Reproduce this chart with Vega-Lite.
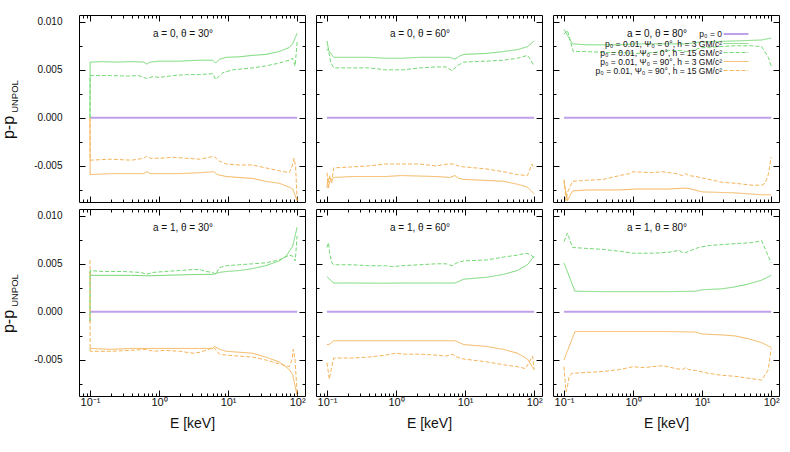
{
  "$schema": "https://vega.github.io/schema/vega-lite/v6.json",
  "background": "white",
  "padding": {"left": 0, "top": 14, "right": 5, "bottom": 5},
  "config": {
    "font": "Liberation Sans",
    "view": {"stroke": null},
    "axis": {
      "grid": false,
      "domainColor": "#000",
      "domainWidth": 1,
      "tickColor": "#000",
      "labelColor": "#111",
      "titleColor": "#111",
      "labelFont": "Liberation Sans",
      "titleFont": "Liberation Sans",
      "titleFontWeight": "normal",
      "labelFontSize": 10,
      "labelFlush": false,
      "labelOverlap": false
    },
    "title": {"font": "Liberation Sans", "fontSize": 10, "fontWeight": "normal", "color": "#111", "frame": "group"},
    "legend": {"labelFont": "Liberation Sans"}
  },
  "datasets": {
    "curves": [
      {"panel": "a0t30", "series": "p0", "E": 0.1, "v": 0},
      {"panel": "a0t30", "series": "p0", "E": 100, "v": 0},
      {"panel": "a0t30", "series": "g3", "E": 0.1, "v": 0},
      {"panel": "a0t30", "series": "g3", "E": 0.1005, "v": 0.0058},
      {"panel": "a0t30", "series": "g3", "E": 0.15, "v": 0.00585},
      {"panel": "a0t30", "series": "g3", "E": 0.25, "v": 0.0058},
      {"panel": "a0t30", "series": "g3", "E": 0.4, "v": 0.00585},
      {"panel": "a0t30", "series": "g3", "E": 0.6, "v": 0.0058},
      {"panel": "a0t30", "series": "g3", "E": 0.66, "v": 0.0056},
      {"panel": "a0t30", "series": "g3", "E": 0.75, "v": 0.0058},
      {"panel": "a0t30", "series": "g3", "E": 1, "v": 0.0059},
      {"panel": "a0t30", "series": "g3", "E": 2, "v": 0.0059},
      {"panel": "a0t30", "series": "g3", "E": 3.9, "v": 0.006},
      {"panel": "a0t30", "series": "g3", "E": 6, "v": 0.006},
      {"panel": "a0t30", "series": "g3", "E": 6.6, "v": 0.0057},
      {"panel": "a0t30", "series": "g3", "E": 7.5, "v": 0.0061},
      {"panel": "a0t30", "series": "g3", "E": 9.4, "v": 0.0063},
      {"panel": "a0t30", "series": "g3", "E": 14.5, "v": 0.00635},
      {"panel": "a0t30", "series": "g3", "E": 22.6, "v": 0.0065},
      {"panel": "a0t30", "series": "g3", "E": 35, "v": 0.0066},
      {"panel": "a0t30", "series": "g3", "E": 55, "v": 0.0069},
      {"panel": "a0t30", "series": "g3", "E": 76, "v": 0.0073},
      {"panel": "a0t30", "series": "g3", "E": 86, "v": 0.0077},
      {"panel": "a0t30", "series": "g3", "E": 100, "v": 0.0088},
      {"panel": "a0t30", "series": "g15", "E": 0.1, "v": 0},
      {"panel": "a0t30", "series": "g15", "E": 0.1005, "v": 0.0044},
      {"panel": "a0t30", "series": "g15", "E": 0.2, "v": 0.0044},
      {"panel": "a0t30", "series": "g15", "E": 0.35, "v": 0.00435},
      {"panel": "a0t30", "series": "g15", "E": 0.5, "v": 0.0044},
      {"panel": "a0t30", "series": "g15", "E": 0.66, "v": 0.0041},
      {"panel": "a0t30", "series": "g15", "E": 0.82, "v": 0.0043},
      {"panel": "a0t30", "series": "g15", "E": 1, "v": 0.0042},
      {"panel": "a0t30", "series": "g15", "E": 1.6, "v": 0.0044},
      {"panel": "a0t30", "series": "g15", "E": 2.5, "v": 0.0045},
      {"panel": "a0t30", "series": "g15", "E": 3.9, "v": 0.0045},
      {"panel": "a0t30", "series": "g15", "E": 6, "v": 0.0046},
      {"panel": "a0t30", "series": "g15", "E": 6.6, "v": 0.004},
      {"panel": "a0t30", "series": "g15", "E": 8.4, "v": 0.0047},
      {"panel": "a0t30", "series": "g15", "E": 11.7, "v": 0.005},
      {"panel": "a0t30", "series": "g15", "E": 22.6, "v": 0.0052},
      {"panel": "a0t30", "series": "g15", "E": 35, "v": 0.0054},
      {"panel": "a0t30", "series": "g15", "E": 55, "v": 0.0057},
      {"panel": "a0t30", "series": "g15", "E": 77, "v": 0.006},
      {"panel": "a0t30", "series": "g15", "E": 86, "v": 0.0062},
      {"panel": "a0t30", "series": "g15", "E": 93.6, "v": 0.0054},
      {"panel": "a0t30", "series": "g15", "E": 100, "v": 0.0079},
      {"panel": "a0t30", "series": "o3", "E": 0.1, "v": 0},
      {"panel": "a0t30", "series": "o3", "E": 0.1005, "v": -0.0059},
      {"panel": "a0t30", "series": "o3", "E": 0.2, "v": -0.0058},
      {"panel": "a0t30", "series": "o3", "E": 0.4, "v": -0.0058},
      {"panel": "a0t30", "series": "o3", "E": 0.6, "v": -0.0058},
      {"panel": "a0t30", "series": "o3", "E": 0.66, "v": -0.0056},
      {"panel": "a0t30", "series": "o3", "E": 0.75, "v": -0.0058},
      {"panel": "a0t30", "series": "o3", "E": 1, "v": -0.0058},
      {"panel": "a0t30", "series": "o3", "E": 2, "v": -0.0058},
      {"panel": "a0t30", "series": "o3", "E": 3.9, "v": -0.0057},
      {"panel": "a0t30", "series": "o3", "E": 6.2, "v": -0.0056},
      {"panel": "a0t30", "series": "o3", "E": 7, "v": -0.0059},
      {"panel": "a0t30", "series": "o3", "E": 9.4, "v": -0.0061},
      {"panel": "a0t30", "series": "o3", "E": 14.5, "v": -0.0062},
      {"panel": "a0t30", "series": "o3", "E": 22.6, "v": -0.0063},
      {"panel": "a0t30", "series": "o3", "E": 35, "v": -0.0066},
      {"panel": "a0t30", "series": "o3", "E": 55, "v": -0.0068},
      {"panel": "a0t30", "series": "o3", "E": 77, "v": -0.0072},
      {"panel": "a0t30", "series": "o3", "E": 86, "v": -0.0074},
      {"panel": "a0t30", "series": "o3", "E": 100, "v": -0.0086},
      {"panel": "a0t30", "series": "o15", "E": 0.1, "v": 0},
      {"panel": "a0t30", "series": "o15", "E": 0.1005, "v": -0.0044},
      {"panel": "a0t30", "series": "o15", "E": 0.2, "v": -0.0043},
      {"panel": "a0t30", "series": "o15", "E": 0.4, "v": -0.0044},
      {"panel": "a0t30", "series": "o15", "E": 0.6, "v": -0.0042},
      {"panel": "a0t30", "series": "o15", "E": 0.66, "v": -0.004},
      {"panel": "a0t30", "series": "o15", "E": 0.75, "v": -0.0042},
      {"panel": "a0t30", "series": "o15", "E": 1, "v": -0.0042},
      {"panel": "a0t30", "series": "o15", "E": 1.6, "v": -0.0041},
      {"panel": "a0t30", "series": "o15", "E": 2.5, "v": -0.0042},
      {"panel": "a0t30", "series": "o15", "E": 3.9, "v": -0.0043},
      {"panel": "a0t30", "series": "o15", "E": 6.2, "v": -0.004},
      {"panel": "a0t30", "series": "o15", "E": 7.5, "v": -0.0045},
      {"panel": "a0t30", "series": "o15", "E": 9.4, "v": -0.0048},
      {"panel": "a0t30", "series": "o15", "E": 14.5, "v": -0.0049},
      {"panel": "a0t30", "series": "o15", "E": 22.6, "v": -0.0049},
      {"panel": "a0t30", "series": "o15", "E": 35, "v": -0.0052},
      {"panel": "a0t30", "series": "o15", "E": 55, "v": -0.0055},
      {"panel": "a0t30", "series": "o15", "E": 77, "v": -0.0057},
      {"panel": "a0t30", "series": "o15", "E": 85, "v": -0.005},
      {"panel": "a0t30", "series": "o15", "E": 90, "v": -0.0042},
      {"panel": "a0t30", "series": "o15", "E": 95, "v": -0.005},
      {"panel": "a0t30", "series": "o15", "E": 100, "v": -0.0086},

      {"panel": "a0t60", "series": "p0", "E": 0.1, "v": 0},
      {"panel": "a0t60", "series": "p0", "E": 100, "v": 0},
      {"panel": "a0t60", "series": "g3", "E": 0.1, "v": 0.008},
      {"panel": "a0t60", "series": "g3", "E": 0.106, "v": 0.007},
      {"panel": "a0t60", "series": "g3", "E": 0.125, "v": 0.0063},
      {"panel": "a0t60", "series": "g3", "E": 0.23, "v": 0.0063},
      {"panel": "a0t60", "series": "g3", "E": 0.4, "v": 0.0063},
      {"panel": "a0t60", "series": "g3", "E": 0.7, "v": 0.0062},
      {"panel": "a0t60", "series": "g3", "E": 1.2, "v": 0.0062},
      {"panel": "a0t60", "series": "g3", "E": 2.2, "v": 0.0063},
      {"panel": "a0t60", "series": "g3", "E": 3.8, "v": 0.0063},
      {"panel": "a0t60", "series": "g3", "E": 6, "v": 0.0063},
      {"panel": "a0t60", "series": "g3", "E": 7.1, "v": 0.0061},
      {"panel": "a0t60", "series": "g3", "E": 8.2, "v": 0.0064},
      {"panel": "a0t60", "series": "g3", "E": 9.5, "v": 0.0066},
      {"panel": "a0t60", "series": "g3", "E": 20, "v": 0.0067},
      {"panel": "a0t60", "series": "g3", "E": 36, "v": 0.0069},
      {"panel": "a0t60", "series": "g3", "E": 57, "v": 0.0071},
      {"panel": "a0t60", "series": "g3", "E": 80, "v": 0.0074},
      {"panel": "a0t60", "series": "g3", "E": 100, "v": 0.008},
      {"panel": "a0t60", "series": "g15", "E": 0.1, "v": 0.007},
      {"panel": "a0t60", "series": "g15", "E": 0.104, "v": 0.0072},
      {"panel": "a0t60", "series": "g15", "E": 0.113, "v": 0.0058},
      {"panel": "a0t60", "series": "g15", "E": 0.125, "v": 0.0052},
      {"panel": "a0t60", "series": "g15", "E": 0.23, "v": 0.0052},
      {"panel": "a0t60", "series": "g15", "E": 0.4, "v": 0.0052},
      {"panel": "a0t60", "series": "g15", "E": 0.7, "v": 0.005},
      {"panel": "a0t60", "series": "g15", "E": 1, "v": 0.005},
      {"panel": "a0t60", "series": "g15", "E": 1.3, "v": 0.005},
      {"panel": "a0t60", "series": "g15", "E": 2.2, "v": 0.0052},
      {"panel": "a0t60", "series": "g15", "E": 3.8, "v": 0.0053},
      {"panel": "a0t60", "series": "g15", "E": 5.3, "v": 0.0053},
      {"panel": "a0t60", "series": "g15", "E": 6.5, "v": 0.0049},
      {"panel": "a0t60", "series": "g15", "E": 7.6, "v": 0.0054},
      {"panel": "a0t60", "series": "g15", "E": 9.5, "v": 0.0058},
      {"panel": "a0t60", "series": "g15", "E": 20, "v": 0.0059},
      {"panel": "a0t60", "series": "g15", "E": 36, "v": 0.006},
      {"panel": "a0t60", "series": "g15", "E": 57, "v": 0.0062},
      {"panel": "a0t60", "series": "g15", "E": 80, "v": 0.0065},
      {"panel": "a0t60", "series": "g15", "E": 88, "v": 0.0061},
      {"panel": "a0t60", "series": "g15", "E": 100, "v": 0.0054},
      {"panel": "a0t60", "series": "o3", "E": 0.1, "v": -0.0073},
      {"panel": "a0t60", "series": "o3", "E": 0.103, "v": -0.0063},
      {"panel": "a0t60", "series": "o3", "E": 0.107, "v": -0.0067},
      {"panel": "a0t60", "series": "o3", "E": 0.115, "v": -0.0065},
      {"panel": "a0t60", "series": "o3", "E": 0.125, "v": -0.0062},
      {"panel": "a0t60", "series": "o3", "E": 0.23, "v": -0.0061},
      {"panel": "a0t60", "series": "o3", "E": 0.7, "v": -0.0061},
      {"panel": "a0t60", "series": "o3", "E": 1.2, "v": -0.006},
      {"panel": "a0t60", "series": "o3", "E": 3.8, "v": -0.0061},
      {"panel": "a0t60", "series": "o3", "E": 6, "v": -0.0062},
      {"panel": "a0t60", "series": "o3", "E": 7.1, "v": -0.006},
      {"panel": "a0t60", "series": "o3", "E": 8.2, "v": -0.0063},
      {"panel": "a0t60", "series": "o3", "E": 9.5, "v": -0.0064},
      {"panel": "a0t60", "series": "o3", "E": 20, "v": -0.0065},
      {"panel": "a0t60", "series": "o3", "E": 36, "v": -0.0066},
      {"panel": "a0t60", "series": "o3", "E": 57, "v": -0.0069},
      {"panel": "a0t60", "series": "o3", "E": 80, "v": -0.0072},
      {"panel": "a0t60", "series": "o3", "E": 100, "v": -0.0079},
      {"panel": "a0t60", "series": "o15", "E": 0.1, "v": -0.0057},
      {"panel": "a0t60", "series": "o15", "E": 0.106, "v": -0.0073},
      {"panel": "a0t60", "series": "o15", "E": 0.11, "v": -0.006},
      {"panel": "a0t60", "series": "o15", "E": 0.117, "v": -0.0068},
      {"panel": "a0t60", "series": "o15", "E": 0.125, "v": -0.0052},
      {"panel": "a0t60", "series": "o15", "E": 0.23, "v": -0.0051},
      {"panel": "a0t60", "series": "o15", "E": 0.4, "v": -0.005},
      {"panel": "a0t60", "series": "o15", "E": 0.7, "v": -0.0048},
      {"panel": "a0t60", "series": "o15", "E": 1.2, "v": -0.0048},
      {"panel": "a0t60", "series": "o15", "E": 2.2, "v": -0.0048},
      {"panel": "a0t60", "series": "o15", "E": 3.8, "v": -0.005},
      {"panel": "a0t60", "series": "o15", "E": 5.5, "v": -0.0048},
      {"panel": "a0t60", "series": "o15", "E": 6.8, "v": -0.0048},
      {"panel": "a0t60", "series": "o15", "E": 8, "v": -0.005},
      {"panel": "a0t60", "series": "o15", "E": 9.5, "v": -0.0051},
      {"panel": "a0t60", "series": "o15", "E": 20, "v": -0.0053},
      {"panel": "a0t60", "series": "o15", "E": 36, "v": -0.0056},
      {"panel": "a0t60", "series": "o15", "E": 57, "v": -0.0059},
      {"panel": "a0t60", "series": "o15", "E": 80, "v": -0.006},
      {"panel": "a0t60", "series": "o15", "E": 93, "v": -0.0048},
      {"panel": "a0t60", "series": "o15", "E": 100, "v": -0.0053},

      {"panel": "a0t80", "series": "p0", "E": 0.1, "v": 0},
      {"panel": "a0t80", "series": "p0", "E": 100, "v": 0},
      {"panel": "a0t80", "series": "g3", "E": 0.1, "v": 0.0092},
      {"panel": "a0t80", "series": "g3", "E": 0.133, "v": 0.0077},
      {"panel": "a0t80", "series": "g3", "E": 0.21, "v": 0.0076},
      {"panel": "a0t80", "series": "g3", "E": 0.64, "v": 0.0076},
      {"panel": "a0t80", "series": "g3", "E": 1.1, "v": 0.0077},
      {"panel": "a0t80", "series": "g3", "E": 3.3, "v": 0.0077},
      {"panel": "a0t80", "series": "g3", "E": 5.8, "v": 0.0077},
      {"panel": "a0t80", "series": "g3", "E": 10, "v": 0.0079},
      {"panel": "a0t80", "series": "g3", "E": 30, "v": 0.008},
      {"panel": "a0t80", "series": "g3", "E": 73, "v": 0.0081},
      {"panel": "a0t80", "series": "g3", "E": 100, "v": 0.0083},
      {"panel": "a0t80", "series": "g15", "E": 0.1, "v": 0.0087},
      {"panel": "a0t80", "series": "g15", "E": 0.112, "v": 0.0091},
      {"panel": "a0t80", "series": "g15", "E": 0.136, "v": 0.0069},
      {"panel": "a0t80", "series": "g15", "E": 0.2, "v": 0.0069},
      {"panel": "a0t80", "series": "g15", "E": 0.4, "v": 0.0068},
      {"panel": "a0t80", "series": "g15", "E": 0.64, "v": 0.0068},
      {"panel": "a0t80", "series": "g15", "E": 1.1, "v": 0.0067},
      {"panel": "a0t80", "series": "g15", "E": 2, "v": 0.0068},
      {"panel": "a0t80", "series": "g15", "E": 3.3, "v": 0.007},
      {"panel": "a0t80", "series": "g15", "E": 5.2, "v": 0.007},
      {"panel": "a0t80", "series": "g15", "E": 5.8, "v": 0.0069},
      {"panel": "a0t80", "series": "g15", "E": 7, "v": 0.007},
      {"panel": "a0t80", "series": "g15", "E": 10, "v": 0.0073},
      {"panel": "a0t80", "series": "g15", "E": 17, "v": 0.0074},
      {"panel": "a0t80", "series": "g15", "E": 30, "v": 0.0075},
      {"panel": "a0t80", "series": "g15", "E": 53, "v": 0.0075},
      {"panel": "a0t80", "series": "g15", "E": 73, "v": 0.0074},
      {"panel": "a0t80", "series": "g15", "E": 91, "v": 0.0063},
      {"panel": "a0t80", "series": "g15", "E": 100, "v": 0.0054},
      {"panel": "a0t80", "series": "o3", "E": 0.1, "v": -0.0066},
      {"panel": "a0t80", "series": "o3", "E": 0.112, "v": -0.0086},
      {"panel": "a0t80", "series": "o3", "E": 0.133, "v": -0.0076},
      {"panel": "a0t80", "series": "o3", "E": 0.21, "v": -0.0075},
      {"panel": "a0t80", "series": "o3", "E": 0.64, "v": -0.0075},
      {"panel": "a0t80", "series": "o3", "E": 1.1, "v": -0.0074},
      {"panel": "a0t80", "series": "o3", "E": 3.3, "v": -0.0074},
      {"panel": "a0t80", "series": "o3", "E": 5.8, "v": -0.0073},
      {"panel": "a0t80", "series": "o3", "E": 7, "v": -0.0074},
      {"panel": "a0t80", "series": "o3", "E": 10, "v": -0.0077},
      {"panel": "a0t80", "series": "o3", "E": 30, "v": -0.0078},
      {"panel": "a0t80", "series": "o3", "E": 73, "v": -0.008},
      {"panel": "a0t80", "series": "o3", "E": 100, "v": -0.008},
      {"panel": "a0t80", "series": "o15", "E": 0.1, "v": -0.0064},
      {"panel": "a0t80", "series": "o15", "E": 0.107, "v": -0.0086},
      {"panel": "a0t80", "series": "o15", "E": 0.113, "v": -0.0077},
      {"panel": "a0t80", "series": "o15", "E": 0.133, "v": -0.0066},
      {"panel": "a0t80", "series": "o15", "E": 0.21, "v": -0.0065},
      {"panel": "a0t80", "series": "o15", "E": 0.37, "v": -0.0064},
      {"panel": "a0t80", "series": "o15", "E": 0.64, "v": -0.006},
      {"panel": "a0t80", "series": "o15", "E": 0.89, "v": -0.0058},
      {"panel": "a0t80", "series": "o15", "E": 1, "v": -0.0056},
      {"panel": "a0t80", "series": "o15", "E": 1.9, "v": -0.0057},
      {"panel": "a0t80", "series": "o15", "E": 2.7, "v": -0.0056},
      {"panel": "a0t80", "series": "o15", "E": 4.2, "v": -0.0058},
      {"panel": "a0t80", "series": "o15", "E": 5.2, "v": -0.006},
      {"panel": "a0t80", "series": "o15", "E": 5.8, "v": -0.0058},
      {"panel": "a0t80", "series": "o15", "E": 6.4, "v": -0.006},
      {"panel": "a0t80", "series": "o15", "E": 8.1, "v": -0.0061},
      {"panel": "a0t80", "series": "o15", "E": 12.6, "v": -0.0064},
      {"panel": "a0t80", "series": "o15", "E": 19.5, "v": -0.0067},
      {"panel": "a0t80", "series": "o15", "E": 30, "v": -0.0068},
      {"panel": "a0t80", "series": "o15", "E": 53, "v": -0.007},
      {"panel": "a0t80", "series": "o15", "E": 73, "v": -0.007},
      {"panel": "a0t80", "series": "o15", "E": 82, "v": -0.0068},
      {"panel": "a0t80", "series": "o15", "E": 91, "v": -0.0059},
      {"panel": "a0t80", "series": "o15", "E": 100, "v": -0.0041},

      {"panel": "a1t30", "series": "p0", "E": 0.1, "v": 0},
      {"panel": "a1t30", "series": "p0", "E": 100, "v": 0},
      {"panel": "a1t30", "series": "g3", "E": 0.1, "v": -0.001},
      {"panel": "a1t30", "series": "g3", "E": 0.1005, "v": 0.0042},
      {"panel": "a1t30", "series": "g3", "E": 0.103, "v": 0.0038},
      {"panel": "a1t30", "series": "g3", "E": 0.2, "v": 0.0038},
      {"panel": "a1t30", "series": "g3", "E": 0.4, "v": 0.0038},
      {"panel": "a1t30", "series": "g3", "E": 0.66, "v": 0.00375},
      {"panel": "a1t30", "series": "g3", "E": 1.2, "v": 0.0038},
      {"panel": "a1t30", "series": "g3", "E": 3.9, "v": 0.0039},
      {"panel": "a1t30", "series": "g3", "E": 6, "v": 0.0039},
      {"panel": "a1t30", "series": "g3", "E": 6.6, "v": 0.004},
      {"panel": "a1t30", "series": "g3", "E": 7.5, "v": 0.0041},
      {"panel": "a1t30", "series": "g3", "E": 9.4, "v": 0.0042},
      {"panel": "a1t30", "series": "g3", "E": 14.5, "v": 0.0043},
      {"panel": "a1t30", "series": "g3", "E": 22.6, "v": 0.0045},
      {"panel": "a1t30", "series": "g3", "E": 35, "v": 0.0048},
      {"panel": "a1t30", "series": "g3", "E": 55, "v": 0.0053},
      {"panel": "a1t30", "series": "g3", "E": 69, "v": 0.0058},
      {"panel": "a1t30", "series": "g3", "E": 86, "v": 0.0068},
      {"panel": "a1t30", "series": "g3", "E": 100, "v": 0.0088},
      {"panel": "a1t30", "series": "g15", "E": 0.1, "v": -0.001},
      {"panel": "a1t30", "series": "g15", "E": 0.1005, "v": 0.0043},
      {"panel": "a1t30", "series": "g15", "E": 0.15, "v": 0.0042},
      {"panel": "a1t30", "series": "g15", "E": 0.3, "v": 0.0042},
      {"panel": "a1t30", "series": "g15", "E": 0.55, "v": 0.0041},
      {"panel": "a1t30", "series": "g15", "E": 0.66, "v": 0.0039},
      {"panel": "a1t30", "series": "g15", "E": 0.8, "v": 0.0041},
      {"panel": "a1t30", "series": "g15", "E": 1.2, "v": 0.0042},
      {"panel": "a1t30", "series": "g15", "E": 2, "v": 0.0043},
      {"panel": "a1t30", "series": "g15", "E": 3.1, "v": 0.0044},
      {"panel": "a1t30", "series": "g15", "E": 3.9, "v": 0.0044},
      {"panel": "a1t30", "series": "g15", "E": 4.8, "v": 0.0042},
      {"panel": "a1t30", "series": "g15", "E": 6, "v": 0.0041},
      {"panel": "a1t30", "series": "g15", "E": 6.6, "v": 0.0039},
      {"panel": "a1t30", "series": "g15", "E": 7.5, "v": 0.0046},
      {"panel": "a1t30", "series": "g15", "E": 9.4, "v": 0.0048},
      {"panel": "a1t30", "series": "g15", "E": 14.5, "v": 0.0049},
      {"panel": "a1t30", "series": "g15", "E": 22.6, "v": 0.005},
      {"panel": "a1t30", "series": "g15", "E": 35, "v": 0.0051},
      {"panel": "a1t30", "series": "g15", "E": 55, "v": 0.0054},
      {"panel": "a1t30", "series": "g15", "E": 77, "v": 0.0059},
      {"panel": "a1t30", "series": "g15", "E": 86, "v": 0.0058},
      {"panel": "a1t30", "series": "g15", "E": 94, "v": 0.0053},
      {"panel": "a1t30", "series": "g15", "E": 100, "v": 0.0079},
      {"panel": "a1t30", "series": "o3", "E": 0.1, "v": -0.004},
      {"panel": "a1t30", "series": "o3", "E": 0.1005, "v": -0.0038},
      {"panel": "a1t30", "series": "o3", "E": 0.2, "v": -0.0039},
      {"panel": "a1t30", "series": "o3", "E": 0.4, "v": -0.0038},
      {"panel": "a1t30", "series": "o3", "E": 0.66, "v": -0.0038},
      {"panel": "a1t30", "series": "o3", "E": 1.2, "v": -0.0038},
      {"panel": "a1t30", "series": "o3", "E": 3.9, "v": -0.0038},
      {"panel": "a1t30", "series": "o3", "E": 6, "v": -0.0038},
      {"panel": "a1t30", "series": "o3", "E": 6.4, "v": -0.0036},
      {"panel": "a1t30", "series": "o3", "E": 7.5, "v": -0.0039},
      {"panel": "a1t30", "series": "o3", "E": 9.4, "v": -0.0041},
      {"panel": "a1t30", "series": "o3", "E": 14.5, "v": -0.0042},
      {"panel": "a1t30", "series": "o3", "E": 22.6, "v": -0.0043},
      {"panel": "a1t30", "series": "o3", "E": 35, "v": -0.0047},
      {"panel": "a1t30", "series": "o3", "E": 55, "v": -0.0052},
      {"panel": "a1t30", "series": "o3", "E": 77, "v": -0.006},
      {"panel": "a1t30", "series": "o3", "E": 86, "v": -0.0065},
      {"panel": "a1t30", "series": "o3", "E": 100, "v": -0.0087},
      {"panel": "a1t30", "series": "o15", "E": 0.1, "v": 0.0054},
      {"panel": "a1t30", "series": "o15", "E": 0.1005, "v": -0.0041},
      {"panel": "a1t30", "series": "o15", "E": 0.2, "v": -0.0041},
      {"panel": "a1t30", "series": "o15", "E": 0.4, "v": -0.004},
      {"panel": "a1t30", "series": "o15", "E": 0.66, "v": -0.0039},
      {"panel": "a1t30", "series": "o15", "E": 0.82, "v": -0.0041},
      {"panel": "a1t30", "series": "o15", "E": 1.2, "v": -0.004},
      {"panel": "a1t30", "series": "o15", "E": 2, "v": -0.0041},
      {"panel": "a1t30", "series": "o15", "E": 3.1, "v": -0.0043},
      {"panel": "a1t30", "series": "o15", "E": 3.9, "v": -0.0042},
      {"panel": "a1t30", "series": "o15", "E": 6.2, "v": -0.0037},
      {"panel": "a1t30", "series": "o15", "E": 7.5, "v": -0.0044},
      {"panel": "a1t30", "series": "o15", "E": 9.4, "v": -0.0045},
      {"panel": "a1t30", "series": "o15", "E": 14.5, "v": -0.0046},
      {"panel": "a1t30", "series": "o15", "E": 22.6, "v": -0.0047},
      {"panel": "a1t30", "series": "o15", "E": 35, "v": -0.005},
      {"panel": "a1t30", "series": "o15", "E": 55, "v": -0.0054},
      {"panel": "a1t30", "series": "o15", "E": 77, "v": -0.0057},
      {"panel": "a1t30", "series": "o15", "E": 84, "v": -0.005},
      {"panel": "a1t30", "series": "o15", "E": 88, "v": -0.0039},
      {"panel": "a1t30", "series": "o15", "E": 93, "v": -0.0049},
      {"panel": "a1t30", "series": "o15", "E": 100, "v": -0.0084},

      {"panel": "a1t60", "series": "p0", "E": 0.1, "v": 0},
      {"panel": "a1t60", "series": "p0", "E": 100, "v": 0},
      {"panel": "a1t60", "series": "g3", "E": 0.1, "v": 0.00365},
      {"panel": "a1t60", "series": "g3", "E": 0.106, "v": 0.0035},
      {"panel": "a1t60", "series": "g3", "E": 0.112, "v": 0.0033},
      {"panel": "a1t60", "series": "g3", "E": 0.125, "v": 0.003},
      {"panel": "a1t60", "series": "g3", "E": 0.23, "v": 0.003},
      {"panel": "a1t60", "series": "g3", "E": 0.7, "v": 0.00298},
      {"panel": "a1t60", "series": "g3", "E": 1.2, "v": 0.003},
      {"panel": "a1t60", "series": "g3", "E": 3.8, "v": 0.003},
      {"panel": "a1t60", "series": "g3", "E": 7.1, "v": 0.003},
      {"panel": "a1t60", "series": "g3", "E": 8.3, "v": 0.0032},
      {"panel": "a1t60", "series": "g3", "E": 9.5, "v": 0.0034},
      {"panel": "a1t60", "series": "g3", "E": 20.7, "v": 0.0036},
      {"panel": "a1t60", "series": "g3", "E": 36, "v": 0.0039},
      {"panel": "a1t60", "series": "g3", "E": 57, "v": 0.0043},
      {"panel": "a1t60", "series": "g3", "E": 80, "v": 0.0049},
      {"panel": "a1t60", "series": "g3", "E": 100, "v": 0.0058},
      {"panel": "a1t60", "series": "g15", "E": 0.1, "v": 0.0067},
      {"panel": "a1t60", "series": "g15", "E": 0.105, "v": 0.0072},
      {"panel": "a1t60", "series": "g15", "E": 0.11, "v": 0.006},
      {"panel": "a1t60", "series": "g15", "E": 0.118, "v": 0.0051},
      {"panel": "a1t60", "series": "g15", "E": 0.125, "v": 0.0049},
      {"panel": "a1t60", "series": "g15", "E": 0.23, "v": 0.0049},
      {"panel": "a1t60", "series": "g15", "E": 0.4, "v": 0.0048},
      {"panel": "a1t60", "series": "g15", "E": 0.7, "v": 0.0048},
      {"panel": "a1t60", "series": "g15", "E": 0.9, "v": 0.0047},
      {"panel": "a1t60", "series": "g15", "E": 1.2, "v": 0.0048},
      {"panel": "a1t60", "series": "g15", "E": 2.2, "v": 0.0049},
      {"panel": "a1t60", "series": "g15", "E": 3.8, "v": 0.005},
      {"panel": "a1t60", "series": "g15", "E": 5.3, "v": 0.005},
      {"panel": "a1t60", "series": "g15", "E": 6.5, "v": 0.0048},
      {"panel": "a1t60", "series": "g15", "E": 7.6, "v": 0.0051},
      {"panel": "a1t60", "series": "g15", "E": 9.5, "v": 0.0053},
      {"panel": "a1t60", "series": "g15", "E": 20.7, "v": 0.0054},
      {"panel": "a1t60", "series": "g15", "E": 36, "v": 0.0057},
      {"panel": "a1t60", "series": "g15", "E": 57, "v": 0.0059},
      {"panel": "a1t60", "series": "g15", "E": 75, "v": 0.0061},
      {"panel": "a1t60", "series": "g15", "E": 88, "v": 0.006},
      {"panel": "a1t60", "series": "g15", "E": 100, "v": 0.0056},
      {"panel": "a1t60", "series": "o3", "E": 0.1, "v": -0.0034},
      {"panel": "a1t60", "series": "o3", "E": 0.106, "v": -0.0034},
      {"panel": "a1t60", "series": "o3", "E": 0.112, "v": -0.0033},
      {"panel": "a1t60", "series": "o3", "E": 0.125, "v": -0.003},
      {"panel": "a1t60", "series": "o3", "E": 0.23, "v": -0.003},
      {"panel": "a1t60", "series": "o3", "E": 1.2, "v": -0.003},
      {"panel": "a1t60", "series": "o3", "E": 3.8, "v": -0.003},
      {"panel": "a1t60", "series": "o3", "E": 7.1, "v": -0.003},
      {"panel": "a1t60", "series": "o3", "E": 8.3, "v": -0.0032},
      {"panel": "a1t60", "series": "o3", "E": 9.5, "v": -0.0034},
      {"panel": "a1t60", "series": "o3", "E": 20.7, "v": -0.0036},
      {"panel": "a1t60", "series": "o3", "E": 36, "v": -0.0039},
      {"panel": "a1t60", "series": "o3", "E": 57, "v": -0.0043},
      {"panel": "a1t60", "series": "o3", "E": 80, "v": -0.0049},
      {"panel": "a1t60", "series": "o3", "E": 100, "v": -0.006},
      {"panel": "a1t60", "series": "o15", "E": 0.1, "v": -0.0053},
      {"panel": "a1t60", "series": "o15", "E": 0.108, "v": -0.007},
      {"panel": "a1t60", "series": "o15", "E": 0.115, "v": -0.006},
      {"panel": "a1t60", "series": "o15", "E": 0.125, "v": -0.0048},
      {"panel": "a1t60", "series": "o15", "E": 0.23, "v": -0.0048},
      {"panel": "a1t60", "series": "o15", "E": 0.4, "v": -0.0047},
      {"panel": "a1t60", "series": "o15", "E": 0.7, "v": -0.0045},
      {"panel": "a1t60", "series": "o15", "E": 1, "v": -0.0043},
      {"panel": "a1t60", "series": "o15", "E": 1.3, "v": -0.0044},
      {"panel": "a1t60", "series": "o15", "E": 2.2, "v": -0.0044},
      {"panel": "a1t60", "series": "o15", "E": 3.8, "v": -0.0045},
      {"panel": "a1t60", "series": "o15", "E": 5.3, "v": -0.0046},
      {"panel": "a1t60", "series": "o15", "E": 6.5, "v": -0.0044},
      {"panel": "a1t60", "series": "o15", "E": 7.6, "v": -0.0047},
      {"panel": "a1t60", "series": "o15", "E": 9.5, "v": -0.0049},
      {"panel": "a1t60", "series": "o15", "E": 20.7, "v": -0.0052},
      {"panel": "a1t60", "series": "o15", "E": 36, "v": -0.0055},
      {"panel": "a1t60", "series": "o15", "E": 57, "v": -0.0057},
      {"panel": "a1t60", "series": "o15", "E": 75, "v": -0.0059},
      {"panel": "a1t60", "series": "o15", "E": 95, "v": -0.0046},
      {"panel": "a1t60", "series": "o15", "E": 100, "v": -0.006},

      {"panel": "a1t80", "series": "p0", "E": 0.1, "v": 0},
      {"panel": "a1t80", "series": "p0", "E": 100, "v": 0},
      {"panel": "a1t80", "series": "g3", "E": 0.1, "v": 0.0051},
      {"panel": "a1t80", "series": "g3", "E": 0.144, "v": 0.00215},
      {"panel": "a1t80", "series": "g3", "E": 0.37, "v": 0.0021},
      {"panel": "a1t80", "series": "g3", "E": 1.1, "v": 0.0021},
      {"panel": "a1t80", "series": "g3", "E": 3.3, "v": 0.0021},
      {"panel": "a1t80", "series": "g3", "E": 8, "v": 0.00215},
      {"panel": "a1t80", "series": "g3", "E": 10, "v": 0.0023},
      {"panel": "a1t80", "series": "g3", "E": 19.5, "v": 0.0024},
      {"panel": "a1t80", "series": "g3", "E": 30, "v": 0.0026},
      {"panel": "a1t80", "series": "g3", "E": 47, "v": 0.0029},
      {"panel": "a1t80", "series": "g3", "E": 73, "v": 0.0033},
      {"panel": "a1t80", "series": "g3", "E": 100, "v": 0.0038},
      {"panel": "a1t80", "series": "g15", "E": 0.1, "v": 0.0073},
      {"panel": "a1t80", "series": "g15", "E": 0.112, "v": 0.0082},
      {"panel": "a1t80", "series": "g15", "E": 0.133, "v": 0.0067},
      {"panel": "a1t80", "series": "g15", "E": 0.21, "v": 0.0066},
      {"panel": "a1t80", "series": "g15", "E": 0.37, "v": 0.0065},
      {"panel": "a1t80", "series": "g15", "E": 0.64, "v": 0.0063},
      {"panel": "a1t80", "series": "g15", "E": 1, "v": 0.0061},
      {"panel": "a1t80", "series": "g15", "E": 1.9, "v": 0.0061},
      {"panel": "a1t80", "series": "g15", "E": 3.3, "v": 0.0062},
      {"panel": "a1t80", "series": "g15", "E": 4.6, "v": 0.0064},
      {"panel": "a1t80", "series": "g15", "E": 5.5, "v": 0.0061},
      {"panel": "a1t80", "series": "g15", "E": 6.4, "v": 0.0063},
      {"panel": "a1t80", "series": "g15", "E": 8.9, "v": 0.0067},
      {"panel": "a1t80", "series": "g15", "E": 12.6, "v": 0.0069},
      {"panel": "a1t80", "series": "g15", "E": 19.5, "v": 0.007},
      {"panel": "a1t80", "series": "g15", "E": 30, "v": 0.0071},
      {"panel": "a1t80", "series": "g15", "E": 53, "v": 0.0072},
      {"panel": "a1t80", "series": "g15", "E": 73, "v": 0.0074},
      {"panel": "a1t80", "series": "g15", "E": 86, "v": 0.0062},
      {"panel": "a1t80", "series": "g15", "E": 100, "v": 0.0051},
      {"panel": "a1t80", "series": "o3", "E": 0.1, "v": -0.005},
      {"panel": "a1t80", "series": "o3", "E": 0.144, "v": -0.00205},
      {"panel": "a1t80", "series": "o3", "E": 0.37, "v": -0.00205},
      {"panel": "a1t80", "series": "o3", "E": 1.1, "v": -0.00205},
      {"panel": "a1t80", "series": "o3", "E": 3.3, "v": -0.00205},
      {"panel": "a1t80", "series": "o3", "E": 8, "v": -0.0021},
      {"panel": "a1t80", "series": "o3", "E": 10, "v": -0.0023},
      {"panel": "a1t80", "series": "o3", "E": 19.5, "v": -0.0024},
      {"panel": "a1t80", "series": "o3", "E": 30, "v": -0.0025},
      {"panel": "a1t80", "series": "o3", "E": 47, "v": -0.0028},
      {"panel": "a1t80", "series": "o3", "E": 73, "v": -0.0032},
      {"panel": "a1t80", "series": "o3", "E": 100, "v": -0.0037},
      {"panel": "a1t80", "series": "o15", "E": 0.1, "v": -0.0057},
      {"panel": "a1t80", "series": "o15", "E": 0.107, "v": -0.0083},
      {"panel": "a1t80", "series": "o15", "E": 0.112, "v": -0.0078},
      {"panel": "a1t80", "series": "o15", "E": 0.118, "v": -0.0068},
      {"panel": "a1t80", "series": "o15", "E": 0.129, "v": -0.0064},
      {"panel": "a1t80", "series": "o15", "E": 0.21, "v": -0.0063},
      {"panel": "a1t80", "series": "o15", "E": 0.37, "v": -0.0062},
      {"panel": "a1t80", "series": "o15", "E": 0.64, "v": -0.006},
      {"panel": "a1t80", "series": "o15", "E": 1, "v": -0.0057},
      {"panel": "a1t80", "series": "o15", "E": 1.4, "v": -0.0058},
      {"panel": "a1t80", "series": "o15", "E": 1.9, "v": -0.0057},
      {"panel": "a1t80", "series": "o15", "E": 2.7, "v": -0.0056},
      {"panel": "a1t80", "series": "o15", "E": 4.2, "v": -0.0059},
      {"panel": "a1t80", "series": "o15", "E": 5.2, "v": -0.006},
      {"panel": "a1t80", "series": "o15", "E": 5.8, "v": -0.0058},
      {"panel": "a1t80", "series": "o15", "E": 6.4, "v": -0.006},
      {"panel": "a1t80", "series": "o15", "E": 8.1, "v": -0.0061},
      {"panel": "a1t80", "series": "o15", "E": 12.6, "v": -0.0064},
      {"panel": "a1t80", "series": "o15", "E": 19.5, "v": -0.0066},
      {"panel": "a1t80", "series": "o15", "E": 30, "v": -0.0067},
      {"panel": "a1t80", "series": "o15", "E": 73, "v": -0.0071},
      {"panel": "a1t80", "series": "o15", "E": 91, "v": -0.006},
      {"panel": "a1t80", "series": "o15", "E": 100, "v": -0.0038}
    ]
  },
  "columns": 3,
  "align": "each",
  "spacing": {"row": 5, "column": 9},
  "resolve": {"scale": {"color": "independent", "strokeDash": "independent", "strokeWidth": "independent"}},
  "concat": [
    {
      "width": 226,
      "height": 187,
      "title": {"text": "a = 0, θ = 30°", "offset": -24, "dx": -9},
      "data": {"name": "curves"},
      "transform": [{"filter": "datum.panel == 'a0t30'"}],
      "layer": [
        {
          "mark": {"type": "line", "clip": true},
          "encoding": {
            "x": {"field": "E", "type": "quantitative", "scale": {"type": "log", "domain": [0.0693, 130], "nice": false},
              "axis": {"orient": "bottom", "values": [0.08, 0.09, 0.1, 0.2, 0.3, 0.4, 0.5, 0.6, 0.7, 0.8, 0.9, 1, 2, 3, 4, 5, 6, 7, 8, 9, 10, 20, 30, 40, 50, 60, 70, 80, 90, 100],
                "tickSize": {"condition": {"test": "indexof([0.1, 1, 10, 100], datum.value) >= 0", "value": -6}, "value": -3},
                "labels": false, "title": null}},
            "y": {"field": "v", "type": "quantitative", "scale": {"domain": [-0.00875, 0.0107], "nice": false, "zero": false},
              "axis": {"orient": "left", "values": [-0.0075, -0.005, -0.0025, 0, 0.0025, 0.005, 0.0075, 0.01],
                "tickSize": {"condition": {"test": "abs(round(datum.value * 10000)) % 50 == 0", "value": -6}, "value": -3},
                "labelExpr": "abs(round(datum.value * 10000)) % 50 == 0 ? replace(format(datum.value, '.3f'), '−', '-') : ''",
                "labelPadding": 23,
                "title": "p-p", "titleFontSize": 16, "titleX": -66, "titleY": 112, "titleAngle": 270, "titleAlign": "center", "titleBaseline": "alphabetic"}},
            "color": {"field": "series", "type": "nominal", "scale": {"domain": ["p0", "g3", "g15", "o3", "o15"], "range": ["#c0a0e8", "#74d874", "#74d874", "#f4b45a", "#f4b45a"]}, "legend": null},
            "strokeDash": {"field": "series", "type": "nominal", "scale": {"domain": ["p0", "g3", "g15", "o3", "o15"], "range": [[1, 0], [1, 0], [4, 2], [1, 0], [4, 2]]}, "legend": null},
            "strokeWidth": {"field": "series", "type": "nominal", "scale": {"type": "ordinal", "domain": ["p0", "g3", "g15", "o3", "o15"], "range": [2, 1, 1, 1, 1]}, "legend": null}
          }
        },
        {
          "mark": {"type": "line", "opacity": 0},
          "encoding": {
            "x": {"field": "E", "type": "quantitative",
              "axis": {"orient": "top", "values": [0.08, 0.09, 0.1, 0.2, 0.3, 0.4, 0.5, 0.6, 0.7, 0.8, 0.9, 1, 2, 3, 4, 5, 6, 7, 8, 9, 10, 20, 30, 40, 50, 60, 70, 80, 90, 100],
                "tickSize": {"condition": {"test": "indexof([0.1, 1, 10, 100], datum.value) >= 0", "value": -6}, "value": -3},
                "labels": false, "title": null}},
            "y": {"field": "v", "type": "quantitative",
              "axis": {"orient": "right", "values": [-0.0075, -0.005, -0.0025, 0, 0.0025, 0.005, 0.0075, 0.01],
                "tickSize": {"condition": {"test": "abs(round(datum.value * 10000)) % 50 == 0", "value": -6}, "value": -3},
                "labels": false, "title": null}}
          }
        },
        {
          "mark": {"type": "line", "opacity": 0},
          "encoding": {
            "x": {"field": "E", "type": "quantitative", "axis": null},
            "y": {"field": "v", "type": "quantitative",
              "axis": {"orient": "left", "domain": false, "ticks": false, "labels": false,
                "title": "UNPOL", "titleFontSize": 9.5, "titleX": -61.5, "titleY": 81, "titleAngle": 270, "titleAlign": "center", "titleBaseline": "alphabetic"}}
          }
        }
      ],
      "resolve": {"axis": {"x": "independent", "y": "independent"}}
    },
    {
      "width": 226,
      "height": 187,
      "title": {"text": "a = 0, θ = 60°", "offset": -24, "dx": -9},
      "data": {"name": "curves"},
      "transform": [{"filter": "datum.panel == 'a0t60'"}],
      "layer": [
        {
          "mark": {"type": "line", "clip": true},
          "encoding": {
            "x": {"field": "E", "type": "quantitative", "scale": {"type": "log", "domain": [0.0693, 130], "nice": false},
              "axis": {"orient": "bottom", "values": [0.08, 0.09, 0.1, 0.2, 0.3, 0.4, 0.5, 0.6, 0.7, 0.8, 0.9, 1, 2, 3, 4, 5, 6, 7, 8, 9, 10, 20, 30, 40, 50, 60, 70, 80, 90, 100],
                "tickSize": {"condition": {"test": "indexof([0.1, 1, 10, 100], datum.value) >= 0", "value": -6}, "value": -3},
                "labels": false, "title": null}},
            "y": {"field": "v", "type": "quantitative", "scale": {"domain": [-0.00875, 0.0107], "nice": false, "zero": false},
              "axis": {"orient": "left", "values": [-0.0075, -0.005, -0.0025, 0, 0.0025, 0.005, 0.0075, 0.01],
                "tickSize": {"condition": {"test": "abs(round(datum.value * 10000)) % 50 == 0", "value": -6}, "value": -3},
                "labels": false, "title": null}},
            "color": {"field": "series", "type": "nominal", "scale": {"domain": ["p0", "g3", "g15", "o3", "o15"], "range": ["#c0a0e8", "#74d874", "#74d874", "#f4b45a", "#f4b45a"]}, "legend": null},
            "strokeDash": {"field": "series", "type": "nominal", "scale": {"domain": ["p0", "g3", "g15", "o3", "o15"], "range": [[1, 0], [1, 0], [4, 2], [1, 0], [4, 2]]}, "legend": null},
            "strokeWidth": {"field": "series", "type": "nominal", "scale": {"type": "ordinal", "domain": ["p0", "g3", "g15", "o3", "o15"], "range": [2, 1, 1, 1, 1]}, "legend": null}
          }
        },
        {
          "mark": {"type": "line", "opacity": 0},
          "encoding": {
            "x": {"field": "E", "type": "quantitative",
              "axis": {"orient": "top", "values": [0.08, 0.09, 0.1, 0.2, 0.3, 0.4, 0.5, 0.6, 0.7, 0.8, 0.9, 1, 2, 3, 4, 5, 6, 7, 8, 9, 10, 20, 30, 40, 50, 60, 70, 80, 90, 100],
                "tickSize": {"condition": {"test": "indexof([0.1, 1, 10, 100], datum.value) >= 0", "value": -6}, "value": -3},
                "labels": false, "title": null}},
            "y": {"field": "v", "type": "quantitative",
              "axis": {"orient": "right", "values": [-0.0075, -0.005, -0.0025, 0, 0.0025, 0.005, 0.0075, 0.01],
                "tickSize": {"condition": {"test": "abs(round(datum.value * 10000)) % 50 == 0", "value": -6}, "value": -3},
                "labels": false, "title": null}}
          }
        }
      ],
      "resolve": {"axis": {"x": "independent", "y": "independent"}}
    },
    {
      "width": 226,
      "height": 187,
      "title": {"text": "a = 0, θ = 80°", "offset": -24, "dx": -9},
      "data": {"name": "curves"},
      "transform": [{"filter": "datum.panel == 'a0t80'"}],
      "layer": [
        {
          "mark": {"type": "line", "clip": true},
          "encoding": {
            "x": {"field": "E", "type": "quantitative", "scale": {"type": "log", "domain": [0.0693, 130], "nice": false},
              "axis": {"orient": "bottom", "values": [0.08, 0.09, 0.1, 0.2, 0.3, 0.4, 0.5, 0.6, 0.7, 0.8, 0.9, 1, 2, 3, 4, 5, 6, 7, 8, 9, 10, 20, 30, 40, 50, 60, 70, 80, 90, 100],
                "tickSize": {"condition": {"test": "indexof([0.1, 1, 10, 100], datum.value) >= 0", "value": -6}, "value": -3},
                "labels": false, "title": null}},
            "y": {"field": "v", "type": "quantitative", "scale": {"domain": [-0.00875, 0.0107], "nice": false, "zero": false},
              "axis": {"orient": "left", "values": [-0.0075, -0.005, -0.0025, 0, 0.0025, 0.005, 0.0075, 0.01],
                "tickSize": {"condition": {"test": "abs(round(datum.value * 10000)) % 50 == 0", "value": -6}, "value": -3},
                "labels": false, "title": null}},
            "color": {"field": "series", "type": "nominal", "scale": {"domain": ["p0", "g3", "g15", "o3", "o15"], "range": ["#c0a0e8", "#74d874", "#74d874", "#f4b45a", "#f4b45a"]},
              "legend": {"orient": "none", "legendX": 178, "legendY": 14, "title": null, "padding": 0, "symbolType": "M-3.1,0H3.1", "symbolSize": 64, "labelAlign": "right", "labelOffset": -19, "labelFontSize": 8.5, "rowPadding": -3.5, "labelColor": "#111",
                "labelExpr": "datum.label == 'p0' ? 'p₀ = 0' : datum.label == 'g3' ? 'p₀ = 0.01, Ψ₀ = 0°, h = 3 GM/c²' : datum.label == 'g15' ? 'p₀ = 0.01, Ψ₀ = 0°, h = 15 GM/c²' : datum.label == 'o3' ? 'p₀ = 0.01, Ψ₀ = 90°, h = 3 GM/c²' : 'p₀ = 0.01, Ψ₀ = 90°, h = 15 GM/c²'"}},
            "strokeDash": {"field": "series", "type": "nominal", "scale": {"domain": ["p0", "g3", "g15", "o3", "o15"], "range": [[1, 0], [1, 0], [4, 2], [1, 0], [4, 2]]},
              "legend": {"orient": "none", "legendX": 178, "legendY": 14, "title": null, "padding": 0, "symbolType": "M-3.1,0H3.1", "symbolSize": 64, "labelAlign": "right", "labelOffset": -19, "labelFontSize": 8.5, "rowPadding": -3.5, "labelColor": "#111",
                "labelExpr": "datum.label == 'p0' ? 'p₀ = 0' : datum.label == 'g3' ? 'p₀ = 0.01, Ψ₀ = 0°, h = 3 GM/c²' : datum.label == 'g15' ? 'p₀ = 0.01, Ψ₀ = 0°, h = 15 GM/c²' : datum.label == 'o3' ? 'p₀ = 0.01, Ψ₀ = 90°, h = 3 GM/c²' : 'p₀ = 0.01, Ψ₀ = 90°, h = 15 GM/c²'"}},
            "strokeWidth": {"field": "series", "type": "nominal", "scale": {"type": "ordinal", "domain": ["p0", "g3", "g15", "o3", "o15"], "range": [2, 1, 1, 1, 1]},
              "legend": {"orient": "none", "legendX": 178, "legendY": 14, "title": null, "padding": 0, "symbolType": "M-3.1,0H3.1", "symbolSize": 64, "labelAlign": "right", "labelOffset": -19, "labelFontSize": 8.5, "rowPadding": -3.5, "labelColor": "#111",
                "labelExpr": "datum.label == 'p0' ? 'p₀ = 0' : datum.label == 'g3' ? 'p₀ = 0.01, Ψ₀ = 0°, h = 3 GM/c²' : datum.label == 'g15' ? 'p₀ = 0.01, Ψ₀ = 0°, h = 15 GM/c²' : datum.label == 'o3' ? 'p₀ = 0.01, Ψ₀ = 90°, h = 3 GM/c²' : 'p₀ = 0.01, Ψ₀ = 90°, h = 15 GM/c²'"}}
          }
        },
        {
          "mark": {"type": "line", "opacity": 0},
          "encoding": {
            "x": {"field": "E", "type": "quantitative",
              "axis": {"orient": "top", "values": [0.08, 0.09, 0.1, 0.2, 0.3, 0.4, 0.5, 0.6, 0.7, 0.8, 0.9, 1, 2, 3, 4, 5, 6, 7, 8, 9, 10, 20, 30, 40, 50, 60, 70, 80, 90, 100],
                "tickSize": {"condition": {"test": "indexof([0.1, 1, 10, 100], datum.value) >= 0", "value": -6}, "value": -3},
                "labels": false, "title": null}},
            "y": {"field": "v", "type": "quantitative",
              "axis": {"orient": "right", "values": [-0.0075, -0.005, -0.0025, 0, 0.0025, 0.005, 0.0075, 0.01],
                "tickSize": {"condition": {"test": "abs(round(datum.value * 10000)) % 50 == 0", "value": -6}, "value": -3},
                "labels": false, "title": null}}
          }
        }
      ],
      "resolve": {"axis": {"x": "independent", "y": "independent"}}
    },
    {
      "width": 226,
      "height": 187,
      "title": {"text": "a = 1, θ = 30°", "offset": -24, "dx": -9},
      "data": {"name": "curves"},
      "transform": [{"filter": "datum.panel == 'a1t30'"}],
      "layer": [
        {
          "mark": {"type": "line", "clip": true},
          "encoding": {
            "x": {"field": "E", "type": "quantitative", "scale": {"type": "log", "domain": [0.0693, 130], "nice": false},
              "axis": {"orient": "bottom", "values": [0.08, 0.09, 0.1, 0.2, 0.3, 0.4, 0.5, 0.6, 0.7, 0.8, 0.9, 1, 2, 3, 4, 5, 6, 7, 8, 9, 10, 20, 30, 40, 50, 60, 70, 80, 90, 100],
                "tickSize": {"condition": {"test": "indexof([0.1, 1, 10, 100], datum.value) >= 0", "value": -6}, "value": -3},
                "labelExpr": "datum.value == 0.1 ? '10⁻¹' : datum.value == 1 ? '10⁰' : datum.value == 10 ? '10¹' : datum.value == 100 ? '10²' : ''",
                "labelPadding": 6, "labelFontSize": 11,
                "title": "E [keV]", "titleFontSize": 14, "titlePadding": 6}},
            "y": {"field": "v", "type": "quantitative", "scale": {"domain": [-0.00875, 0.0107], "nice": false, "zero": false},
              "axis": {"orient": "left", "values": [-0.0075, -0.005, -0.0025, 0, 0.0025, 0.005, 0.0075, 0.01],
                "tickSize": {"condition": {"test": "abs(round(datum.value * 10000)) % 50 == 0", "value": -6}, "value": -3},
                "labelExpr": "abs(round(datum.value * 10000)) % 50 == 0 ? replace(format(datum.value, '.3f'), '−', '-') : ''",
                "labelPadding": 23,
                "title": "p-p", "titleFontSize": 16, "titleX": -66, "titleY": 112, "titleAngle": 270, "titleAlign": "center", "titleBaseline": "alphabetic"}},
            "color": {"field": "series", "type": "nominal", "scale": {"domain": ["p0", "g3", "g15", "o3", "o15"], "range": ["#c0a0e8", "#74d874", "#74d874", "#f4b45a", "#f4b45a"]}, "legend": null},
            "strokeDash": {"field": "series", "type": "nominal", "scale": {"domain": ["p0", "g3", "g15", "o3", "o15"], "range": [[1, 0], [1, 0], [4, 2], [1, 0], [4, 2]]}, "legend": null},
            "strokeWidth": {"field": "series", "type": "nominal", "scale": {"type": "ordinal", "domain": ["p0", "g3", "g15", "o3", "o15"], "range": [2, 1, 1, 1, 1]}, "legend": null}
          }
        },
        {
          "mark": {"type": "line", "opacity": 0},
          "encoding": {
            "x": {"field": "E", "type": "quantitative",
              "axis": {"orient": "top", "values": [0.08, 0.09, 0.1, 0.2, 0.3, 0.4, 0.5, 0.6, 0.7, 0.8, 0.9, 1, 2, 3, 4, 5, 6, 7, 8, 9, 10, 20, 30, 40, 50, 60, 70, 80, 90, 100],
                "tickSize": {"condition": {"test": "indexof([0.1, 1, 10, 100], datum.value) >= 0", "value": -6}, "value": -3},
                "labels": false, "title": null}},
            "y": {"field": "v", "type": "quantitative",
              "axis": {"orient": "right", "values": [-0.0075, -0.005, -0.0025, 0, 0.0025, 0.005, 0.0075, 0.01],
                "tickSize": {"condition": {"test": "abs(round(datum.value * 10000)) % 50 == 0", "value": -6}, "value": -3},
                "labels": false, "title": null}}
          }
        },
        {
          "mark": {"type": "line", "opacity": 0},
          "encoding": {
            "x": {"field": "E", "type": "quantitative", "axis": null},
            "y": {"field": "v", "type": "quantitative",
              "axis": {"orient": "left", "domain": false, "ticks": false, "labels": false,
                "title": "UNPOL", "titleFontSize": 9.5, "titleX": -61.5, "titleY": 81, "titleAngle": 270, "titleAlign": "center", "titleBaseline": "alphabetic"}}
          }
        }
      ],
      "resolve": {"axis": {"x": "independent", "y": "independent"}}
    },
    {
      "width": 226,
      "height": 187,
      "title": {"text": "a = 1, θ = 60°", "offset": -24, "dx": -9},
      "data": {"name": "curves"},
      "transform": [{"filter": "datum.panel == 'a1t60'"}],
      "layer": [
        {
          "mark": {"type": "line", "clip": true},
          "encoding": {
            "x": {"field": "E", "type": "quantitative", "scale": {"type": "log", "domain": [0.0693, 130], "nice": false},
              "axis": {"orient": "bottom", "values": [0.08, 0.09, 0.1, 0.2, 0.3, 0.4, 0.5, 0.6, 0.7, 0.8, 0.9, 1, 2, 3, 4, 5, 6, 7, 8, 9, 10, 20, 30, 40, 50, 60, 70, 80, 90, 100],
                "tickSize": {"condition": {"test": "indexof([0.1, 1, 10, 100], datum.value) >= 0", "value": -6}, "value": -3},
                "labelExpr": "datum.value == 0.1 ? '10⁻¹' : datum.value == 1 ? '10⁰' : datum.value == 10 ? '10¹' : datum.value == 100 ? '10²' : ''",
                "labelPadding": 6, "labelFontSize": 11,
                "title": "E [keV]", "titleFontSize": 14, "titlePadding": 6}},
            "y": {"field": "v", "type": "quantitative", "scale": {"domain": [-0.00875, 0.0107], "nice": false, "zero": false},
              "axis": {"orient": "left", "values": [-0.0075, -0.005, -0.0025, 0, 0.0025, 0.005, 0.0075, 0.01],
                "tickSize": {"condition": {"test": "abs(round(datum.value * 10000)) % 50 == 0", "value": -6}, "value": -3},
                "labels": false, "title": null}},
            "color": {"field": "series", "type": "nominal", "scale": {"domain": ["p0", "g3", "g15", "o3", "o15"], "range": ["#c0a0e8", "#74d874", "#74d874", "#f4b45a", "#f4b45a"]}, "legend": null},
            "strokeDash": {"field": "series", "type": "nominal", "scale": {"domain": ["p0", "g3", "g15", "o3", "o15"], "range": [[1, 0], [1, 0], [4, 2], [1, 0], [4, 2]]}, "legend": null},
            "strokeWidth": {"field": "series", "type": "nominal", "scale": {"type": "ordinal", "domain": ["p0", "g3", "g15", "o3", "o15"], "range": [2, 1, 1, 1, 1]}, "legend": null}
          }
        },
        {
          "mark": {"type": "line", "opacity": 0},
          "encoding": {
            "x": {"field": "E", "type": "quantitative",
              "axis": {"orient": "top", "values": [0.08, 0.09, 0.1, 0.2, 0.3, 0.4, 0.5, 0.6, 0.7, 0.8, 0.9, 1, 2, 3, 4, 5, 6, 7, 8, 9, 10, 20, 30, 40, 50, 60, 70, 80, 90, 100],
                "tickSize": {"condition": {"test": "indexof([0.1, 1, 10, 100], datum.value) >= 0", "value": -6}, "value": -3},
                "labels": false, "title": null}},
            "y": {"field": "v", "type": "quantitative",
              "axis": {"orient": "right", "values": [-0.0075, -0.005, -0.0025, 0, 0.0025, 0.005, 0.0075, 0.01],
                "tickSize": {"condition": {"test": "abs(round(datum.value * 10000)) % 50 == 0", "value": -6}, "value": -3},
                "labels": false, "title": null}}
          }
        }
      ],
      "resolve": {"axis": {"x": "independent", "y": "independent"}}
    },
    {
      "width": 226,
      "height": 187,
      "title": {"text": "a = 1, θ = 80°", "offset": -24, "dx": -9},
      "data": {"name": "curves"},
      "transform": [{"filter": "datum.panel == 'a1t80'"}],
      "layer": [
        {
          "mark": {"type": "line", "clip": true},
          "encoding": {
            "x": {"field": "E", "type": "quantitative", "scale": {"type": "log", "domain": [0.0693, 130], "nice": false},
              "axis": {"orient": "bottom", "values": [0.08, 0.09, 0.1, 0.2, 0.3, 0.4, 0.5, 0.6, 0.7, 0.8, 0.9, 1, 2, 3, 4, 5, 6, 7, 8, 9, 10, 20, 30, 40, 50, 60, 70, 80, 90, 100],
                "tickSize": {"condition": {"test": "indexof([0.1, 1, 10, 100], datum.value) >= 0", "value": -6}, "value": -3},
                "labelExpr": "datum.value == 0.1 ? '10⁻¹' : datum.value == 1 ? '10⁰' : datum.value == 10 ? '10¹' : datum.value == 100 ? '10²' : ''",
                "labelPadding": 6, "labelFontSize": 11,
                "title": "E [keV]", "titleFontSize": 14, "titlePadding": 6}},
            "y": {"field": "v", "type": "quantitative", "scale": {"domain": [-0.00875, 0.0107], "nice": false, "zero": false},
              "axis": {"orient": "left", "values": [-0.0075, -0.005, -0.0025, 0, 0.0025, 0.005, 0.0075, 0.01],
                "tickSize": {"condition": {"test": "abs(round(datum.value * 10000)) % 50 == 0", "value": -6}, "value": -3},
                "labels": false, "title": null}},
            "color": {"field": "series", "type": "nominal", "scale": {"domain": ["p0", "g3", "g15", "o3", "o15"], "range": ["#c0a0e8", "#74d874", "#74d874", "#f4b45a", "#f4b45a"]}, "legend": null},
            "strokeDash": {"field": "series", "type": "nominal", "scale": {"domain": ["p0", "g3", "g15", "o3", "o15"], "range": [[1, 0], [1, 0], [4, 2], [1, 0], [4, 2]]}, "legend": null},
            "strokeWidth": {"field": "series", "type": "nominal", "scale": {"type": "ordinal", "domain": ["p0", "g3", "g15", "o3", "o15"], "range": [2, 1, 1, 1, 1]}, "legend": null}
          }
        },
        {
          "mark": {"type": "line", "opacity": 0},
          "encoding": {
            "x": {"field": "E", "type": "quantitative",
              "axis": {"orient": "top", "values": [0.08, 0.09, 0.1, 0.2, 0.3, 0.4, 0.5, 0.6, 0.7, 0.8, 0.9, 1, 2, 3, 4, 5, 6, 7, 8, 9, 10, 20, 30, 40, 50, 60, 70, 80, 90, 100],
                "tickSize": {"condition": {"test": "indexof([0.1, 1, 10, 100], datum.value) >= 0", "value": -6}, "value": -3},
                "labels": false, "title": null}},
            "y": {"field": "v", "type": "quantitative",
              "axis": {"orient": "right", "values": [-0.0075, -0.005, -0.0025, 0, 0.0025, 0.005, 0.0075, 0.01],
                "tickSize": {"condition": {"test": "abs(round(datum.value * 10000)) % 50 == 0", "value": -6}, "value": -3},
                "labels": false, "title": null}}
          }
        }
      ],
      "resolve": {"axis": {"x": "independent", "y": "independent"}}
    }
  ]
}
